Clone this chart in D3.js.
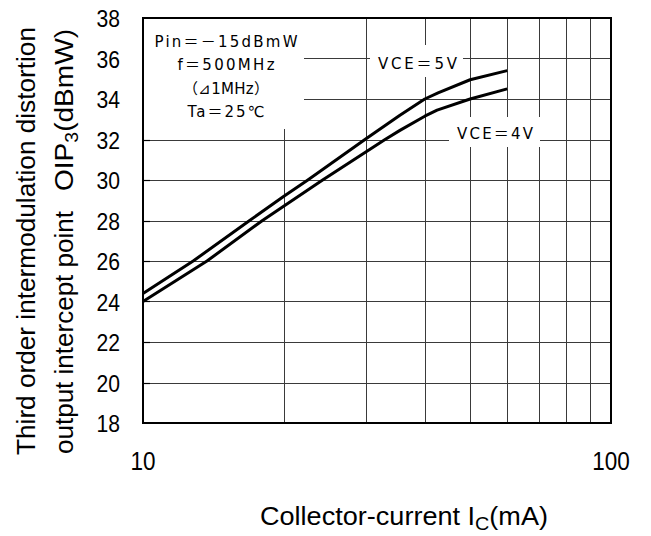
<!DOCTYPE html>
<html>
<head>
<meta charset="utf-8">
<script src="https://cdn.jsdelivr.net/npm/d3@7"></script>
<style>
  html, body { margin: 0; padding: 0; background: #fff; }
  svg { display: block; }
  text { font-family: "Liberation Sans", Arial, sans-serif; fill: #000; }
  .note { font-family: "DejaVu Sans", "Noto Sans CJK JP", sans-serif; }
</style>
</head>
<body>
<svg id="chart" width="651" height="536"></svg>
<script>
// ---------- data ----------
const xTicks = [10, 100];
const xGrid = [20, 30, 40, 50, 60, 70, 80, 90];
const yTicks = [18, 20, 22, 24, 26, 28, 30, 32, 34, 36, 38];

const current5V = [10, 12.8, 16.9, 20, 22.5, 29.8, 35.4, 40, 42.7, 50, 60];
const oip5V     = [24.4, 26.0, 28.0, 29.2, 30.0, 32.0, 33.2, 34.0, 34.3, 34.95, 35.4];

const current4V = [10, 13.7, 18, 24.2, 32.9, 35.4, 40, 42.5, 50, 60];
const oip4V     = [24.0, 26.0, 28.0, 30.0, 32.0, 32.45, 33.15, 33.45, 34.0, 34.5];

const seriesLabels = ["VCE＝5V", "VCE＝4V"];
const conditionLines = ["Pin＝－15dBmW", "f＝500MHz", "（⊿1MHz）", "Ta＝25℃"];

// ---------- layout ----------
const svg = d3.select("#chart");
const L = 143, R = 611, T = 18, B = 423;

const x = d3.scaleLog().domain([10, 100]).range([L, R]);
const y = d3.scaleLinear().domain([18, 38]).range([B, T]);

const g = svg.append("g");

// grid
g.append("g").selectAll("line").data(yTicks.slice(1, -1)).join("line")
  .attr("x1", L).attr("x2", R)
  .attr("y1", d => Math.round(y(d)) + 0.5).attr("y2", d => Math.round(y(d)) + 0.5)
  .attr("stroke", "#3a3a3a").attr("stroke-width", 1);
g.append("g").selectAll("line").data(xGrid).join("line")
  .attr("x1", d => Math.round(x(d)) + 0.5).attr("x2", d => Math.round(x(d)) + 0.5)
  .attr("y1", T).attr("y2", B)
  .attr("stroke", "#3a3a3a").attr("stroke-width", 1);

// inner ticks on left
g.append("g").selectAll("line").data(yTicks.slice(1, -1)).join("line")
  .attr("x1", L).attr("x2", L + 7)
  .attr("y1", d => Math.round(y(d)) + 0.5).attr("y2", d => Math.round(y(d)) + 0.5)
  .attr("stroke", "#000").attr("stroke-width", 1.2);

// white boxes behind annotations
const boxes = [
  {x0: 144, x1: 304, y0: 19, y1: 129},
  {x0: 370, x1: 463, y0: 45, y1: 77},
  {x0: 449, x1: 540, y0: 117, y1: 147}
];
g.append("g").selectAll("rect").data(boxes).join("rect")
  .attr("x", d => d.x0).attr("y", d => d.y0)
  .attr("width", d => d.x1 - d.x0).attr("height", d => d.y1 - d.y0)
  .attr("fill", "#fff");

// curves
const line = d3.line().x(d => x(d[0])).y(d => y(d[1])).curve(d3.curveLinear);
const s5 = d3.zip(current5V, oip5V);
const s4 = d3.zip(current4V, oip4V);
g.append("g").selectAll("path").data([s5, s4]).join("path")
  .attr("d", line).attr("fill", "none").attr("stroke", "#000")
  .attr("stroke-width", 3).attr("stroke-linejoin", "round");

// frame
g.append("rect").attr("x", L).attr("y", T).attr("width", R - L).attr("height", B - T)
  .attr("fill", "none").attr("stroke", "#000").attr("stroke-width", 2);

// y tick labels
g.append("g").selectAll("text").data(yTicks).join("text")
  .attr("transform", d => `translate(120,${y(d) + 9}) scale(0.88,1)`)
  .attr("text-anchor", "end").attr("font-size", 24)
  .text(d => d);

// x tick labels
g.append("g").selectAll("text").data(xTicks).join("text")
  .attr("transform", d => `translate(${x(d)},470) scale(0.9,1)`)
  .attr("text-anchor", "middle").attr("font-size", 25)
  .text(d => d);

// conditions text
const condWidths = [143, 97, 86, 77];
const condBase = [47, 70, 94, 117];
g.append("g").selectAll("text").data(conditionLines).join("text")
  .attr("class", "note")
  .attr("x", 226).attr("y", (d, i) => condBase[i])
  .attr("text-anchor", "middle").attr("font-size", 15)
  .attr("textLength", (d, i) => condWidths[i]).attr("lengthAdjust", "spacing")
  .text(d => d);

// series labels
const labelPos = [{x: 378, y: 69, w: 79}, {x: 457, y: 139, w: 76}];
g.append("g").selectAll("text").data(seriesLabels).join("text")
  .attr("class", "note")
  .attr("x", (d, i) => labelPos[i].x).attr("y", (d, i) => labelPos[i].y)
  .attr("font-size", 15)
  .attr("textLength", (d, i) => labelPos[i].w).attr("lengthAdjust", "spacing")
  .text(d => d);

// y axis titles
svg.append("text")
  .attr("transform", "translate(35,455) rotate(-90)")
  .attr("font-size", 26)
  .attr("textLength", 428).attr("lengthAdjust", "spacingAndGlyphs")
  .text("Third order intermodulation distortion");

svg.append("text")
  .attr("transform", "translate(73,454) rotate(-90)")
  .attr("font-size", 26)
  .attr("textLength", 243).attr("lengthAdjust", "spacingAndGlyphs")
  .text("output intercept point");

const yt3 = svg.append("text")
  .attr("transform", "translate(73,191) rotate(-90)")
  .attr("font-size", 26)
  .attr("textLength", 162).attr("lengthAdjust", "spacingAndGlyphs");
yt3.append("tspan").text("OIP");
yt3.append("tspan").attr("font-size", 18).attr("dy", 5).text("3");
yt3.append("tspan").attr("dy", -5).text("(dBmW)");

// x axis title
const xt = svg.append("text")
  .attr("x", 260).attr("y", 525)
  .attr("font-size", 26)
  .attr("textLength", 288).attr("lengthAdjust", "spacingAndGlyphs");
xt.append("tspan").text("Collector-current I");
xt.append("tspan").attr("font-size", 19).attr("dy", 5).text("C");
xt.append("tspan").attr("dy", -5).text("(mA)");
</script>
</body>
</html>
